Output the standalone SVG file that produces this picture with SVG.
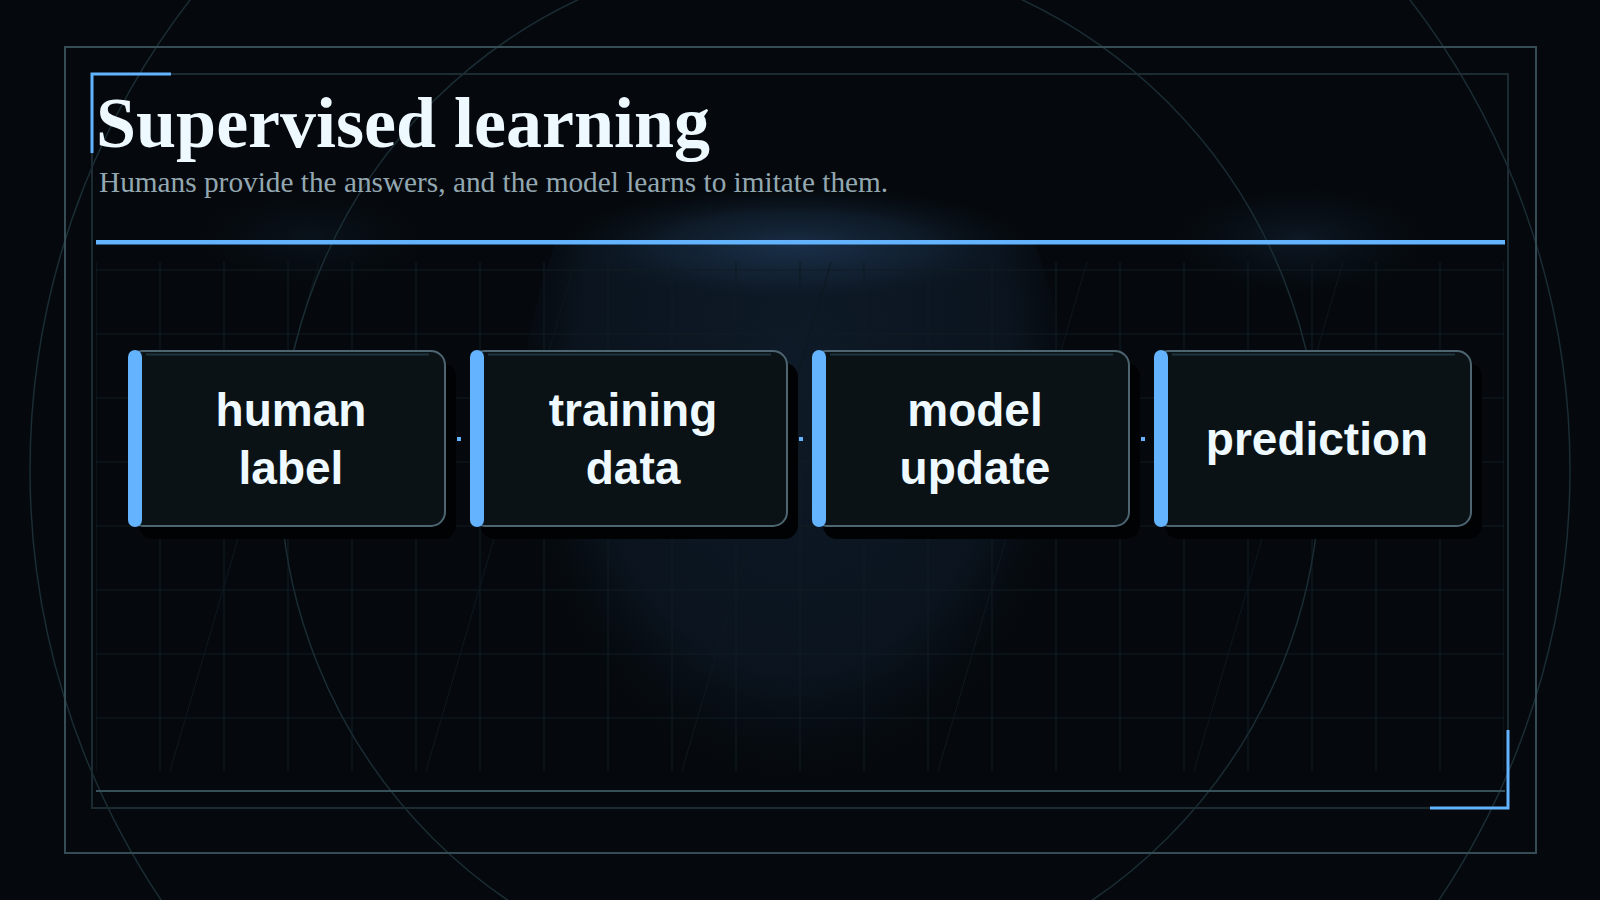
<svg xmlns="http://www.w3.org/2000/svg" width="1600" height="900" viewBox="0 0 1600 900">
  <defs>
    <radialGradient id="glowTop" cx="0.5" cy="0.5" r="0.5">
      <stop offset="0" stop-color="#1c3450" stop-opacity="0.85"/>
      <stop offset="0.55" stop-color="#15283c" stop-opacity="0.55"/>
      <stop offset="1" stop-color="#0a1420" stop-opacity="0"/>
    </radialGradient>
    <radialGradient id="glowSmall" cx="0.5" cy="0.5" r="0.5">
      <stop offset="0" stop-color="#132436" stop-opacity="0.6"/>
      <stop offset="1" stop-color="#0a1420" stop-opacity="0"/>
    </radialGradient>
    <radialGradient id="glowColumn" cx="0.5" cy="0.4" r="0.55">
      <stop offset="0" stop-color="#0f1a28" stop-opacity="1"/>
      <stop offset="0.72" stop-color="#0b1520" stop-opacity="0.9"/>
      <stop offset="1" stop-color="#05090d" stop-opacity="0"/>
    </radialGradient>
    <clipPath id="gridClip">
      <rect x="96" y="262" width="1408" height="509"/>
    </clipPath>
    <clipPath id="belowLine">
      <rect x="0" y="244" width="1600" height="656"/>
    </clipPath>
    <style>
      .frame-outer { fill: none; stroke: #364c55; stroke-width: 2; }
      .frame-inner { fill: none; stroke: #1c2b32; stroke-width: 2; }
      .accent { fill: none; stroke: #63b3ff; stroke-width: 3; }
      .orbit { fill: none; stroke: #1a2c34; stroke-width: 1.5; }
      .grid { fill: none; stroke: #101c23; stroke-width: 1.2; }
      .diag { fill: none; stroke: #0e181e; stroke-width: 1; }
      .shadow { fill: #010204; }
      .card { fill: #0b1216; stroke: #4d6571; stroke-width: 2; }
      .hl { stroke: #1f333d; stroke-width: 2; }
      .bar { fill: #63b3ff; }
      .label { font-family: "Liberation Sans", Arial, sans-serif; font-weight: bold; font-size: 46px; fill: #eefaff; text-anchor: middle; }
      .title { font-family: "Liberation Serif", "Times New Roman", serif; font-weight: bold; font-size: 72px; fill: #eef8ff; }
      .subtitle { font-family: "Liberation Serif", "Times New Roman", serif; font-size: 29.3px; fill: #93a7b1; }
      .conn { stroke: #63b3ff; stroke-width: 4; }
    </style>
  </defs>

  <rect x="0" y="0" width="1600" height="900" fill="#05090d"/>

  <g id="glows">
    <ellipse cx="795" cy="440" rx="275" ry="400" fill="url(#glowColumn)" clip-path="url(#belowLine)"/>
    <ellipse cx="795" cy="245" rx="240" ry="60" fill="url(#glowTop)"/>
    <ellipse cx="310" cy="238" rx="120" ry="50" fill="url(#glowSmall)" opacity="0.6"/>
    <ellipse cx="1300" cy="240" rx="130" ry="55" fill="url(#glowSmall)"/>
  </g>

  <g id="grid" clip-path="url(#gridClip)">
    <path class="grid" d="M96 262V771M160 262V771M224 262V771M288 262V771M352 262V771M416 262V771M480 262V771M544 262V771M608 262V771M672 262V771M736 262V771M800 262V771M864 262V771M928 262V771M992 262V771M1056 262V771M1120 262V771M1184 262V771M1248 262V771M1312 262V771M1376 262V771M1440 262V771M1504 262V771M96 270H1504M96 334H1504M96 398H1504M96 462H1504M96 526H1504M96 590H1504M96 654H1504M96 718H1504"/>
    <path class="diag" d="M170 771L319 262M426 771L575 262M682 771L831 262M938 771L1087 262M1194 771L1343 262"/>
  </g>

  <g id="orbits">
    <circle class="orbit" cx="800" cy="470" r="770"/>
    <circle class="orbit" cx="800" cy="470" r="520"/>
  </g>

  <g id="frame">
    <rect class="frame-outer" x="65" y="47" width="1471" height="806"/>
    <rect class="frame-inner" x="92" y="74" width="1416" height="734"/>
    <line x1="96" y1="791" x2="1505" y2="791" stroke="#36505a" stroke-width="2"/>
    <path class="accent" d="M92 153V74H171"/>
    <path class="accent" d="M1430 808H1508V730"/>
  </g>

  <g id="header">
    <text class="title" x="96" y="147">Supervised learning</text>
    <text class="subtitle" x="99" y="192">Humans provide the answers, and the model learns to imitate them.</text>
    <rect x="96" y="240" width="1409" height="4.5" fill="#63b3ff"/>
  </g>

  <g id="connectors">
    <line class="conn" x1="457" y1="439" x2="461" y2="439"/>
    <line class="conn" x1="799" y1="439" x2="803" y2="439"/>
    <line class="conn" x1="1141" y1="439" x2="1145" y2="439"/>
  </g>

  <g id="node-human-label">
    <rect class="shadow" x="139" y="363" width="317" height="176" rx="14"/>
    <rect class="card" x="129" y="351" width="316" height="175" rx="14"/>
    <line class="hl" x1="146" y1="354.5" x2="429" y2="354.5"/>
    <rect class="bar" x="128" y="350" width="14" height="177" rx="7"/>
    <text class="label" x="291" y="425.5">human</text>
    <text class="label" x="291" y="484.3">label</text>
  </g>

  <g id="node-training-data">
    <rect class="shadow" x="481" y="363" width="317" height="176" rx="14"/>
    <rect class="card" x="471" y="351" width="316" height="175" rx="14"/>
    <line class="hl" x1="488" y1="354.5" x2="771" y2="354.5"/>
    <rect class="bar" x="470" y="350" width="14" height="177" rx="7"/>
    <text class="label" x="633" y="425.5">training</text>
    <text class="label" x="633" y="484.3">data</text>
  </g>

  <g id="node-model-update">
    <rect class="shadow" x="823" y="363" width="317" height="176" rx="14"/>
    <rect class="card" x="813" y="351" width="316" height="175" rx="14"/>
    <line class="hl" x1="830" y1="354.5" x2="1113" y2="354.5"/>
    <rect class="bar" x="812" y="350" width="14" height="177" rx="7"/>
    <text class="label" x="975" y="425.5">model</text>
    <text class="label" x="975" y="484.3">update</text>
  </g>

  <g id="node-prediction">
    <rect class="shadow" x="1165" y="363" width="317" height="176" rx="14"/>
    <rect class="card" x="1155" y="351" width="316" height="175" rx="14"/>
    <line class="hl" x1="1172" y1="354.5" x2="1455" y2="354.5"/>
    <rect class="bar" x="1154" y="350" width="14" height="177" rx="7"/>
    <text class="label" x="1317" y="454.5">prediction</text>
  </g>
</svg>
